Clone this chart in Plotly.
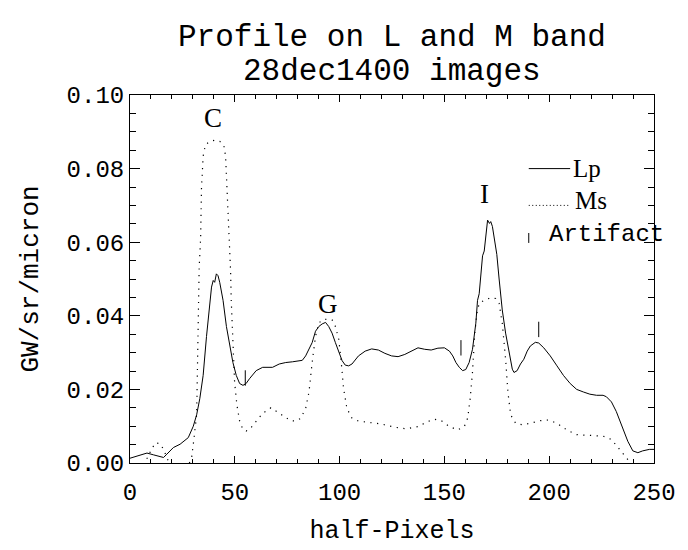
import plotly.graph_objects as go

# ---------------- data ----------------
lp_x = [0, 4, 8.1, 11.3, 16, 17.6, 20.7, 23.9, 27.8, 30.2,
        31.8, 33.3, 34.9, 36.5, 38.1, 38.9, 39.7, 40.4, 41.2, 42.0,
        42.8, 44.4, 46.0, 47.5, 49.1, 50.7, 52.3, 53.9, 55.4, 57.0,
        60.2, 63.3, 68.0, 71.2, 74.3, 77.5, 82.2, 83.8, 86.9, 88.5,
        90.1, 91.7, 93.3, 94.8, 96.4, 98.0, 99.6, 101.2, 102.7, 104.3,
        105.9, 109.0, 112.2, 115.3, 118.5, 121.6, 124.8, 127.9, 131.1, 134.3,
        137.4, 140.6, 143.7, 146.9, 150.0, 152.4, 154.0, 155.5, 157.1, 158.7,
        160.2, 161.8, 163.4, 165.0, 165.8, 166.6, 167.4, 168.2, 169.0, 169.8,
        170.6, 171.5, 172.1, 172.9, 173.7, 175.0, 176.1, 177.6, 179.2, 180.8,
        182.4, 183.2, 184.7, 186.3, 187.9, 189.5, 191.0, 193.4, 195.0, 197.4,
        200.5, 203.7, 206.8, 210.0, 213.1, 216.3, 219.4, 222.6, 225.7, 227.3,
        229.7, 232.0, 235.2, 237.5, 239.9, 242.3, 244.6, 247.8, 250]
lp_y = [0.0013, 0.0020, 0.0027, 0.0022, 0.0015, 0.0024, 0.0042, 0.0051, 0.0069, 0.0100,
        0.0131, 0.0175, 0.0238, 0.0344, 0.0425, 0.0478, 0.0496, 0.0491, 0.0514, 0.0509,
        0.0491, 0.0442, 0.0371, 0.0318, 0.0273, 0.0238, 0.0216, 0.0211, 0.0216, 0.0229,
        0.0251, 0.0260, 0.0260, 0.0269, 0.0273, 0.0275, 0.0279, 0.0291, 0.0327, 0.0358,
        0.0371, 0.0378, 0.0382, 0.0371, 0.0353, 0.0327, 0.0300, 0.0278, 0.0266, 0.0264,
        0.0269, 0.0291, 0.0304, 0.0310, 0.0307, 0.0298, 0.0291, 0.0289, 0.0295, 0.0304,
        0.0313, 0.0309, 0.0307, 0.0312, 0.0313, 0.0304, 0.0291, 0.0273, 0.0260, 0.0251,
        0.0254, 0.0273, 0.0309, 0.0380, 0.0442, 0.0460, 0.0520, 0.0563, 0.0576, 0.0620,
        0.0660, 0.0651, 0.0656, 0.0643, 0.0612, 0.0567, 0.0500, 0.0416, 0.0353, 0.0300,
        0.0255, 0.0246, 0.0251, 0.0269, 0.0282, 0.0304, 0.0318, 0.0328, 0.0326, 0.0313,
        0.0291, 0.0264, 0.0238, 0.0216, 0.0200, 0.0193, 0.0187, 0.0184, 0.0184, 0.0180,
        0.0166, 0.0140, 0.0095, 0.0059, 0.0033, 0.0028, 0.0033, 0.0037, 0.0037]

ms_x = [0, 6, 8.9, 9.7, 12.1, 14.4, 16.0, 17.6, 19.0, 28.0,
        29.4, 30.2, 31.0, 31.8, 32.2, 32.7, 33.0, 33.7, 34.1, 34.9,
        36.0, 38.1, 40.4, 42.8, 44.7, 45.6, 46.3, 46.9, 47.5, 48.0,
        48.3, 49.1, 49.9, 51.0, 52.3, 53.9, 55.4, 57.0, 60.2, 63.3,
        67.2, 70.4, 73.6, 76.7, 79.1, 81.4, 83.8, 85.4, 86.9, 88.5,
        90.1, 91.7, 94.1, 96.4, 98.0, 99.6, 100.8, 101.9, 103.5, 105.9,
        109.0, 113.8, 120.0, 126.4, 131.9, 137.4, 142.2, 145.3, 148.5, 152.4,
        156.3, 159.5, 161.1, 162.3, 163.4, 164.5, 165.5, 166.6, 168.9, 172.1,
        174.5, 176.1, 177.6, 179.2, 180.3, 181.6, 184.0, 187.1, 191.0, 195.8,
        199.7, 203.7, 208.4, 213.1, 219.4, 225.7, 229.7, 232.8, 236.0, 238.4,
        240.0, 250.0]
ms_y = [-0.0010, -0.0005, 0.0019, 0.0031, 0.0055, 0.0052, 0.0037, 0.0015, -0.0005, -0.0005,
        0.0015, 0.0051, 0.0095, 0.0131, 0.0264, 0.0442, 0.0531, 0.0611, 0.0745, 0.0834,
        0.0865, 0.0874, 0.0877, 0.0874, 0.0865, 0.0834, 0.0745, 0.0656, 0.0567, 0.0520,
        0.0442, 0.0309, 0.0220, 0.0158, 0.0114, 0.0091, 0.0087, 0.0091, 0.0114, 0.0135,
        0.0150, 0.0139, 0.0126, 0.0115, 0.0114, 0.0121, 0.0148, 0.0193, 0.0273, 0.0344,
        0.0380, 0.0389, 0.0391, 0.0389, 0.0371, 0.0336, 0.0273, 0.0202, 0.0148, 0.0122,
        0.0114, 0.0111, 0.0106, 0.0097, 0.0093, 0.0099, 0.0113, 0.0119, 0.0115, 0.0099,
        0.0090, 0.0099, 0.0122, 0.0175, 0.0247, 0.0353, 0.0407, 0.0434, 0.0442, 0.0449,
        0.0447, 0.0434, 0.0380, 0.0282, 0.0193, 0.0131, 0.0108, 0.0104, 0.0108, 0.0115,
        0.0117, 0.0108, 0.0090, 0.0077, 0.0075, 0.0073, 0.0064, 0.0042, 0.0020, 0.0002,
        -0.0008, -0.0020]

artifact_x = [55.0, 157.9, 195.0]
artifact_y = [0.0231, 0.0313, 0.0363]

peak_labels = ["C", "G", "I"]
peak_x = [39.6, 94.4, 169.3]
peak_y = [0.0937, 0.0433, 0.0730]

legend_labels = ["Lp", "Ms", "Artifact"]
title_lines = ["Profile on L and M band", "28dec1400 images"]
x_title = "half-Pixels"
y_title = "GW/sr/micron"

MONO = "Liberation Mono"
SERIF = "Liberation Serif"

fig = go.Figure()
fig.add_trace(go.Scatter(x=lp_x, y=lp_y, mode="lines",
                         line=dict(color="black", width=1), showlegend=False))
fig.add_trace(go.Scatter(x=ms_x, y=ms_y, mode="lines",
                         line=dict(color="black", width=1.2, dash="1.2px,5.5px"),
                         showlegend=False))
fig.add_trace(go.Scatter(x=artifact_x, y=artifact_y, mode="markers",
                         marker=dict(symbol="line-ns-open", size=11, color="black",
                                     line=dict(color="black", width=1)),
                         showlegend=False, cliponaxis=False))

# peak labels
for t, px, py in zip(peak_labels, peak_x, peak_y):
    fig.add_annotation(x=px, y=py, text=t, showarrow=False,
                       font=dict(family=SERIF, size=27, color="black"),
                       xanchor="center", yanchor="middle")

# manual legend (IDL style)
fig.add_shape(type="line", xref="x domain", yref="y domain",
              x0=0.761, x1=0.840, y0=0.800, y1=0.800,
              line=dict(color="black", width=1))
fig.add_shape(type="line", xref="x domain", yref="y domain",
              x0=0.761, x1=0.840, y0=0.700, y1=0.700,
              line=dict(color="black", width=1, dash="1px,2.5px"))
fig.add_shape(type="line", xref="x domain", yref="y domain",
              x0=0.761, x1=0.761, y0=0.598, y1=0.625,
              line=dict(color="black", width=1))
fig.add_annotation(xref="x domain", yref="y domain", x=0.842, y=0.800,
                   text=legend_labels[0], showarrow=False, xanchor="left", yanchor="middle",
                   font=dict(family=SERIF, size=25, color="black"))
fig.add_annotation(xref="x domain", yref="y domain", x=0.845, y=0.712,
                   text=legend_labels[1], showarrow=False, xanchor="left", yanchor="middle",
                   font=dict(family=SERIF, size=25, color="black"))
fig.add_annotation(xref="x domain", yref="y domain", x=0.796, y=0.620,
                   text=legend_labels[2], showarrow=False, xanchor="left", yanchor="middle",
                   font=dict(family=MONO, size=24, color="black"))

# title lines (positioned in paper coords above the plot)
fig.add_annotation(xref="x domain", yref="paper", x=0.5, y=1.1575,
                   text=title_lines[0], showarrow=False, xanchor="center", yanchor="middle",
                   font=dict(family=MONO, size=31, color="black"))
fig.add_annotation(xref="x domain", yref="paper", x=0.5, y=1.0640,
                   text=title_lines[1], showarrow=False, xanchor="center", yanchor="middle",
                   font=dict(family=MONO, size=31, color="black"))

axis_common = dict(showline=True, linecolor="black", linewidth=1, mirror="allticks",
                   ticks="inside", tickcolor="black", tickwidth=1, showgrid=False,
                   zeroline=False, tickfont=dict(family=MONO, size=24, color="black"))

fig.update_xaxes(range=[0, 250], dtick=50, tick0=0, ticklen=7, ticklabelstandoff=7,
                 minor=dict(dtick=10, ticklen=4, ticks="inside", tickcolor="black", showgrid=False),
                 title=dict(text=x_title, font=dict(family=MONO, size=25, color="black"), standoff=14),
                 **axis_common)
fig.update_yaxes(range=[0, 0.1], dtick=0.02, tick0=0, ticklen=10, tickformat=".2f",
                 minor=dict(dtick=0.005, ticklen=6, ticks="inside", tickcolor="black", showgrid=False),
                 title=dict(text=y_title, font=dict(family=MONO, size=26, color="black"), standoff=20),
                 **axis_common)

fig.update_layout(width=688, height=550, paper_bgcolor="white", plot_bgcolor="white",
                  margin=dict(l=130, r=30, t=95, b=81), showlegend=False)

fig.write_html("out.html")
